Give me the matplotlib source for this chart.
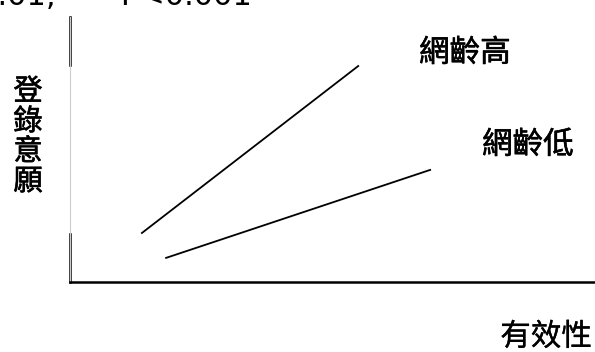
import matplotlib
matplotlib.use("Agg")
import matplotlib.pyplot as plt
import matplotlib.patheffects as pe

plt.rcParams["font.family"] = ["Noto Sans CJK TC", "DejaVu Sans"]

# interaction lines: effectiveness (x) vs registration intention (y)
groups = ["網齡高", "網齡低"]
x_start = [1.37, 1.83]
x_end = [5.49, 6.86]
y_start = [1.85, 0.91]
y_end = [8.15, 4.23]
label_x = [7.52, 8.72]
label_y = [8.64, 5.17]

note = "** p<0.01, *** P<0.001"
xlabel = "有效性"
ylabel = "登\n錄\n意\n願"

thick = [pe.withStroke(linewidth=0.45, foreground="black")]

fig = plt.figure(figsize=(5.95, 3.52), dpi=100)
W, H = 595, 352
ax = fig.add_axes([70 / W, 1 - 282 / H, 525 / W, 265 / H])

for i, g in enumerate(groups):
    ax.plot([x_start[i], x_end[i]], [y_start[i], y_end[i]], color="black", lw=1.3)
    ax.text(label_x[i], label_y[i], g, ha="center", va="center", fontsize=22,
            path_effects=thick)

ax.set_xlim(0, 10)
ax.set_ylim(0, 10)
ax.set_xticks([])
ax.set_yticks([])
ax.spines["top"].set_visible(False)
ax.spines["right"].set_visible(False)
ax.spines["bottom"].set_linewidth(1.8)
ax.spines["left"].set_color("#cccccc")
ax.spines["left"].set_linewidth(0.8)
ax.axvline(0, ymin=0, ymax=0.18, color="black", lw=1.8, clip_on=False)
ax.axvline(0, ymin=0.82, ymax=1, color="black", lw=1.8, clip_on=False)

fig.text(546 / W, 1 - 337 / H, xlabel, ha="center", va="center", fontsize=22,
         path_effects=[pe.withStroke(linewidth=0.2, foreground="black")])
fig.text(28 / W, 1 - 137 / H, ylabel, ha="center", va="center", fontsize=21,
         linespacing=1.0, path_effects=thick)
fig.text(252 / W, 1 - 5 / H, note, ha="right", va="baseline", fontsize=22,
         family="DejaVu Sans")

fig.savefig("out.png", dpi=100)
